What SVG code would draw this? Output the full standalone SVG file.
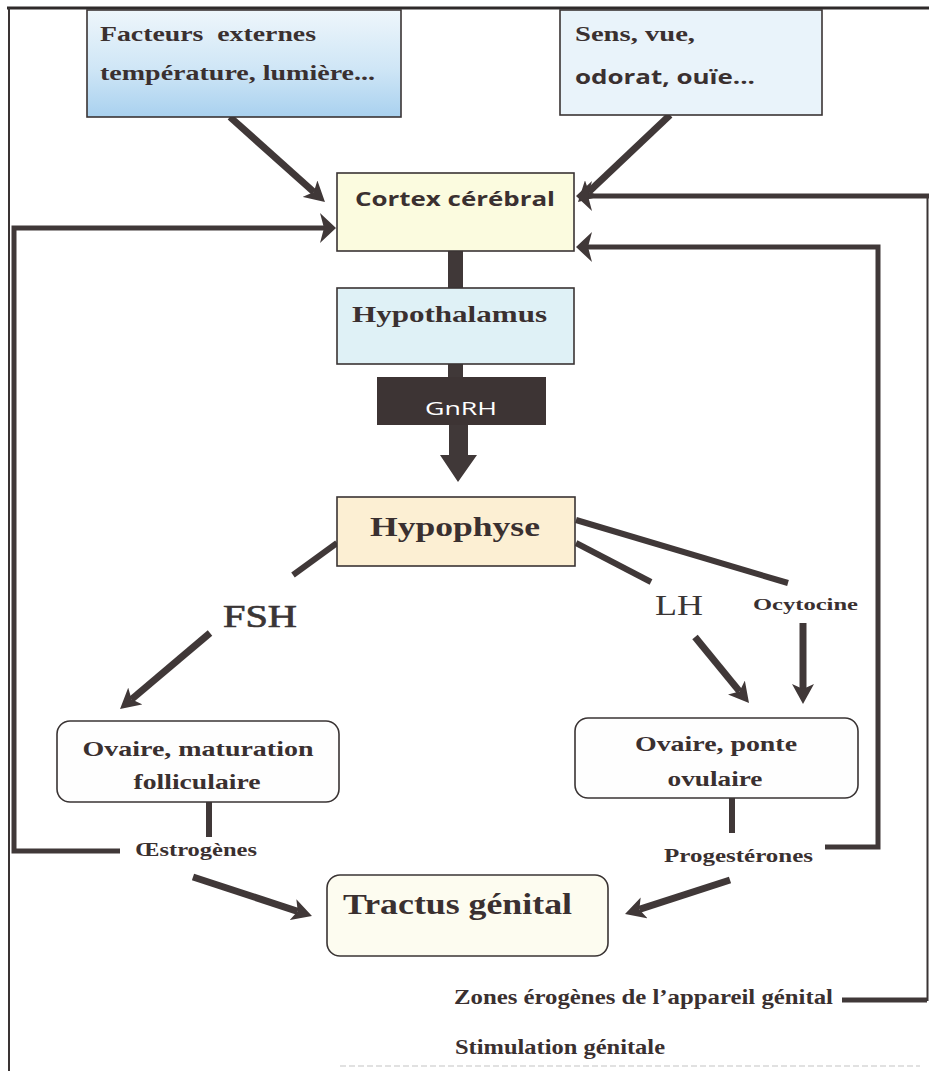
<svg xmlns="http://www.w3.org/2000/svg" width="929" height="1071" viewBox="0 0 929 1071">
<defs>
<linearGradient id="gBlue" x1="0" y1="0" x2="0" y2="1">
<stop offset="0" stop-color="#eef6fb"/>
<stop offset="0.55" stop-color="#cfe6f6"/>
<stop offset="1" stop-color="#a9d1ef"/>
</linearGradient>
<marker id="ah" viewBox="0 0 20 22" markerWidth="20" markerHeight="22" refX="5" refY="11" orient="auto" markerUnits="userSpaceOnUse">
<path d="M0,0 L20,11 L0,22 L5,11 Z" fill="#403838"/>
</marker>
<marker id="ahf" viewBox="0 0 16 30" markerWidth="16" markerHeight="30" refX="4" refY="15" orient="auto" markerUnits="userSpaceOnUse">
<path d="M0,0 L16,15 L0,30 L4,15 Z" fill="#403838"/>
</marker>
<style>
.box{stroke:#3a3434;stroke-width:1.6}
.arr{stroke:#403838;stroke-width:7;fill:none;marker-end:url(#ah)}
.fb{stroke:#403838;stroke-width:5;fill:none}
.thin{stroke:#3a3434;stroke-width:2;fill:none}
.bar{fill:#403838}
.serif{font-family:"Liberation Serif","Times New Roman",serif;font-weight:bold;fill:#3a3030}
.sans{font-family:"Open Sans","DejaVu Sans",sans-serif;font-weight:bold;fill:#3a3030}
.cond{font-family:"Liberation Serif","Times New Roman",serif;font-weight:bold;fill:#3a3030}
</style>
</defs>
<rect x="0" y="0" width="929" height="1071" fill="#ffffff"/>

<!-- frame -->
<g id="frame">
<line x1="7" y1="8" x2="929" y2="8" stroke="#2e2a2a" stroke-width="3"/>
<line x1="9" y1="8" x2="9" y2="1071" class="thin"/>
<line x1="340" y1="1066" x2="920" y2="1066" stroke="#d8d8d8" stroke-width="1.5" stroke-dasharray="6 3"/>
</g>

<g id="connectors">
<!-- inputs to cortex -->
<line x1="230" y1="117" x2="313.8" y2="192" class="arr"/>
<line x1="670" y1="115" x2="588.9" y2="191.7" class="arr"/>
<!-- oestrogen feedback -->
<polyline points="120,851 14,851 14,228 324,228" class="fb" marker-end="url(#ahf)"/>
<!-- progesterone feedback -->
<polyline points="825,847 878,847 878,247 588,247" class="fb" marker-end="url(#ahf)"/>
<!-- genital zones feedback -->
<polyline points="842,1000 927,1000" class="fb"/>
<line x1="927.5" y1="196" x2="927.5" y2="1001" class="thin"/>
<polyline points="929,196 588,196" class="fb" marker-end="url(#ahf)"/>
<!-- cortex - hypothalamus -->
<rect x="448" y="251" width="15" height="37" class="bar"/>
<rect x="448" y="364" width="15" height="14" class="bar"/>
<!-- GnRH arrow -->
<polygon points="449,425 468,425 468,455 477,455 458,482 440,455 449,455" class="bar"/>
<!-- hypophyse outputs -->
<line x1="337" y1="543" x2="293" y2="575" stroke="#403838" stroke-width="6"/>
<line x1="576" y1="543" x2="651" y2="582" stroke="#403838" stroke-width="6"/>
<line x1="576" y1="520" x2="788" y2="583" stroke="#403838" stroke-width="6"/>
<line x1="210" y1="633" x2="131.5" y2="699.3" class="arr"/>
<line x1="695" y1="637" x2="739.5" y2="691.4" class="arr"/>
<line x1="803" y1="623" x2="803" y2="689" class="arr"/>
<!-- ovary stems -->
<line x1="209" y1="802" x2="209" y2="837" stroke="#403838" stroke-width="6"/>
<line x1="732" y1="798" x2="732" y2="833" stroke="#403838" stroke-width="6"/>
<!-- to genital tract -->
<line x1="193" y1="877" x2="297.7" y2="911.3" class="arr"/>
<line x1="730" y1="880" x2="639.3" y2="909.4" class="arr"/>
</g>

<g id="facteurs">
<rect x="87" y="10" width="314" height="107" fill="url(#gBlue)" class="box"/>
<text x="100" y="41" class="serif" font-size="22" textLength="216" lengthAdjust="spacingAndGlyphs" xml:space="preserve">Facteurs  externes</text>
<text x="100" y="80" class="serif" font-size="22" textLength="275" lengthAdjust="spacingAndGlyphs">température, lumière...</text>
</g>

<g id="sens">
<rect x="560" y="10" width="262" height="105" fill="#e9f3fa" class="box"/>
<text x="575" y="41" class="serif" font-size="22" textLength="120" lengthAdjust="spacingAndGlyphs">Sens, vue,</text>
<text x="575" y="84" class="sans" font-size="19" textLength="180" lengthAdjust="spacingAndGlyphs">odorat, ouïe...</text>
</g>

<g id="cortex">
<rect x="337" y="173" width="237" height="78" fill="#fbfbdf" class="box"/>
<text x="355" y="206" class="sans" font-size="20" textLength="200" lengthAdjust="spacingAndGlyphs">Cortex cérébral</text>
</g>

<g id="hypothalamus">
<rect x="337" y="288" width="237" height="76" fill="#dff1f6" class="box"/>
<text x="352" y="322" class="serif" font-size="24" textLength="195" lengthAdjust="spacingAndGlyphs">Hypothalamus</text>
</g>

<g id="gnrh">
<rect x="377" y="377" width="169" height="48" fill="#3d3434"/>
<text x="461" y="415" text-anchor="middle" font-family="Open Sans, DejaVu Sans, sans-serif" font-size="18" fill="#ffffff" textLength="72" lengthAdjust="spacingAndGlyphs">GnRH</text>
</g>

<g id="hypophyse">
<rect x="337" y="497" width="238" height="69" fill="#fcefd3" class="box"/>
<text x="370" y="536" class="serif" font-size="28" textLength="170" lengthAdjust="spacingAndGlyphs">Hypophyse</text>
</g>

<g id="labels">
<text x="223" y="627" font-family="Liberation Serif, Times New Roman, serif" font-size="32" fill="#3a3535" stroke="#3a3535" stroke-width="0.7" textLength="74" lengthAdjust="spacingAndGlyphs">FSH</text>
<text x="655" y="615" font-family="Liberation Serif, Times New Roman, serif" font-size="30" fill="#3a3535" textLength="48" lengthAdjust="spacingAndGlyphs">LH</text>
<text x="753" y="610" class="serif" font-size="17" textLength="105" lengthAdjust="spacingAndGlyphs">Ocytocine</text>
<text x="135" y="856" class="cond" font-size="18" textLength="122" lengthAdjust="spacingAndGlyphs">Œstrogènes</text>
<text x="664" y="862" class="cond" font-size="18" textLength="149" lengthAdjust="spacingAndGlyphs">Progestérones</text>
<text x="454" y="1004" class="cond" font-size="20" textLength="379" lengthAdjust="spacingAndGlyphs">Zones érogènes de l’appareil génital</text>
<text x="455" y="1054" class="cond" font-size="20" textLength="210" lengthAdjust="spacingAndGlyphs">Stimulation génitale</text>
</g>

<g id="ovaire-maturation">
<rect x="57" y="721" width="282" height="81" rx="13" fill="#fefefe" class="box"/>
<text x="198" y="756" text-anchor="middle" class="serif" font-size="21" textLength="231" lengthAdjust="spacingAndGlyphs">Ovaire, maturation</text>
<text x="197" y="789" text-anchor="middle" class="serif" font-size="21" textLength="127" lengthAdjust="spacingAndGlyphs">folliculaire</text>
</g>

<g id="ovaire-ponte">
<rect x="575" y="718" width="283" height="80" rx="13" fill="#fefefe" class="box"/>
<text x="716" y="751" text-anchor="middle" class="serif" font-size="21" textLength="162" lengthAdjust="spacingAndGlyphs">Ovaire, ponte</text>
<text x="715" y="786" text-anchor="middle" class="serif" font-size="21" textLength="95" lengthAdjust="spacingAndGlyphs">ovulaire</text>
</g>

<g id="tractus">
<rect x="327" y="875" width="281" height="81" rx="13" fill="#fdfcf0" class="box"/>
<text x="343" y="914" class="serif" font-size="30" textLength="229" lengthAdjust="spacingAndGlyphs">Tractus génital</text>
</g>
</svg>
